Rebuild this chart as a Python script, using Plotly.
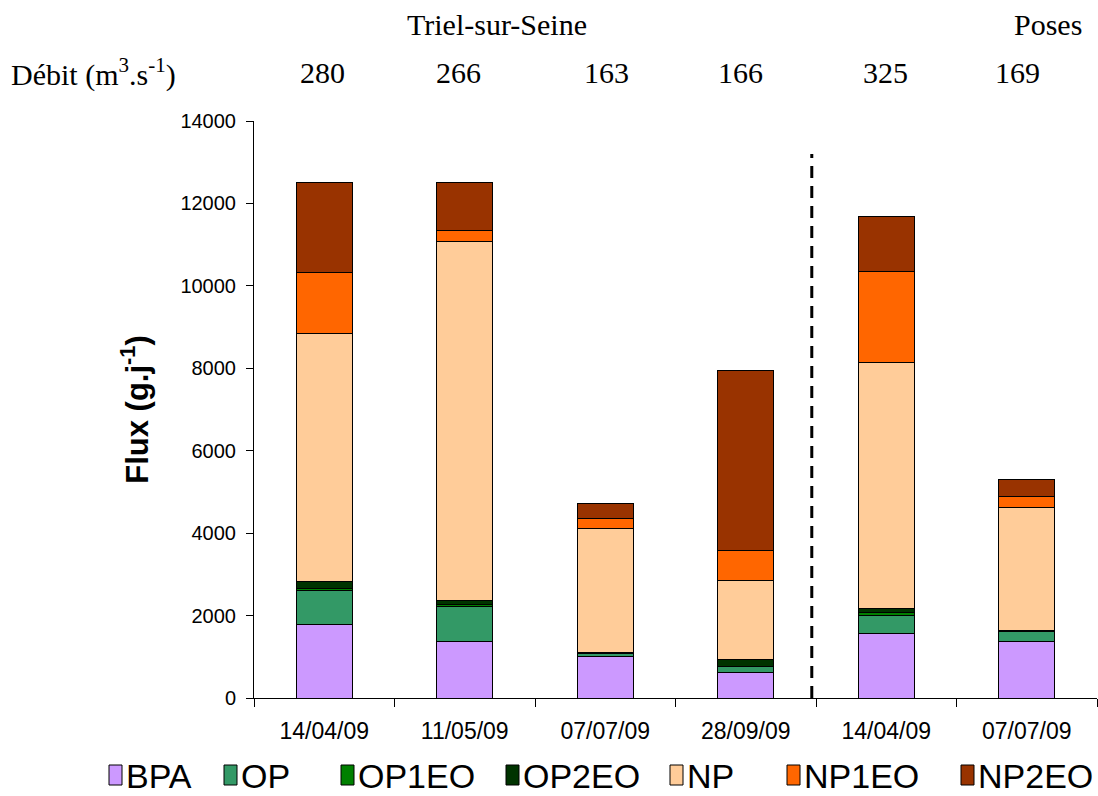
import plotly.graph_objects as go

# Sampling dates (first four at Triel-sur-Seine, last two at Poses)
dates = ["14/04/09", "11/05/09", "07/07/09", "28/09/09", "14/04/09 ", "07/07/09 "]
date_labels = ["14/04/09", "11/05/09", "07/07/09", "28/09/09", "14/04/09", "07/07/09"]

# River discharge (m3/s) for each sampling
debit = [280, 266, 163, 166, 325, 169]

# Daily fluxes (g/j) per compound
bpa = [1775, 1360, 1000, 610, 1575, 1360]
op = [830, 850, 80, 145, 435, 250]
op1eo = [60, 65, 10, 20, 65, 10]
op2eo = [150, 90, 25, 165, 105, 15]
np_ = [6030, 8700, 2990, 1900, 5955, 2995]
np1eo = [1470, 285, 260, 750, 2205, 255]
np2eo = [2200, 1165, 345, 4365, 1350, 420]

series = [
    ("BPA", bpa, "#CC99FF"),
    ("OP", op, "#339966"),
    ("OP1EO", op1eo, "#008000"),
    ("OP2EO", op2eo, "#003300"),
    ("NP", np_, "#FFCC99"),
    ("NP1EO", np1eo, "#FF6600"),
    ("NP2EO", np2eo, "#993300"),
]

W, H = 1098, 796
M_L, M_R, M_T, M_B = 254, 1, 121, 98
PW, PH = W - M_L - M_R, H - M_T - M_B


def px_x(px):
    return (px - M_L) / PW


def px_y(py):
    return (H - M_B - py) / PH


fig = go.Figure()
for name, vals, color in series:
    fig.add_trace(go.Bar(
        name=name, x=dates, y=vals,
        marker=dict(color=color, line=dict(color="black", width=1)),
        width=0.4, showlegend=False,
    ))

# Separator between the two sampling sites
fig.add_shape(type="line", xref="x", yref="y", x0=3.47, x1=3.47, y0=0, y1=13200,
              line=dict(color="black", width=3, dash="12px,8px"))

serif = "Liberation Serif, Times New Roman, serif"
sans = "Liberation Sans, Arial, sans-serif"

top_font = dict(family=serif, size=30, color="black")
annotations = [
    dict(text="Triel-sur-Seine", x=0.288, y=1.167, xref="paper", yref="paper",
         xanchor="center", yanchor="middle", showarrow=False, font=top_font),
    dict(text="Poses", x=0.942, y=1.167, xref="paper", yref="paper",
         xanchor="center", yanchor="middle", showarrow=False, font=top_font),
    dict(text="Débit (m<sup>3</sup>.s<sup>-1</sup>)", x=-0.291, y=1.084, xref="paper", yref="paper",
         xanchor="left", yanchor="middle", showarrow=False, font=top_font),
]
shifts = [-2, -6, 1, -5, -1, -9]
for d, q, s in zip(dates, debit, shifts):
    annotations.append(dict(text=str(q), x=d, y=1.084, xref="x", yref="paper", xshift=s,
                            xanchor="center", yanchor="middle", showarrow=False, font=top_font))

# Legend row beneath the chart: key box followed by its label
legend_left = [109, 224, 341, 506, 670, 787, 961]
legend_mid = 775
for (name, _, color), left in zip(series, legend_left):
    fig.add_shape(type="rect", xref="paper", yref="paper",
                  x0=px_x(left), x1=px_x(left + 13),
                  y0=px_y(legend_mid + 10), y1=px_y(legend_mid - 10),
                  fillcolor=color, line=dict(color="black", width=1))
    annotations.append(dict(text=name, x=px_x(left + 15), y=px_y(legend_mid + 1),
                            xref="paper", yref="paper", xanchor="left", yanchor="middle",
                            showarrow=False,
                            font=dict(family=sans, size=34, color="black")))

fig.update_layout(
    width=W, height=H,
    barmode="stack",
    plot_bgcolor="white", paper_bgcolor="white",
    margin=dict(l=M_L, r=M_R, t=M_T, b=M_B),
    annotations=annotations,
    showlegend=False,
    xaxis=dict(
        tickmode="array", tickvals=dates, ticktext=date_labels,
        showline=True, linecolor="black", linewidth=1,
        ticks="outside", tickson="boundaries", ticklen=8, tickcolor="black",
        tickfont=dict(family=sans, size=23, color="black"),
        ticklabelstandoff=12,
        range=[-0.5, 5.5],
    ),
    yaxis=dict(
        range=[0, 14000], dtick=2000, tickformat="d",
        showline=True, linecolor="black", linewidth=1,
        ticks="outside", ticklen=7, tickcolor="black",
        showgrid=False, zeroline=False,
        tickfont=dict(family=sans, size=20, color="black"),
        ticklabelstandoff=6,
        title=dict(text="<b>Flux (g.j<sup>-1</sup>)</b>", standoff=22,
                   font=dict(family=sans, size=31, color="black")),
    ),
)

fig.write_html("out.html")
